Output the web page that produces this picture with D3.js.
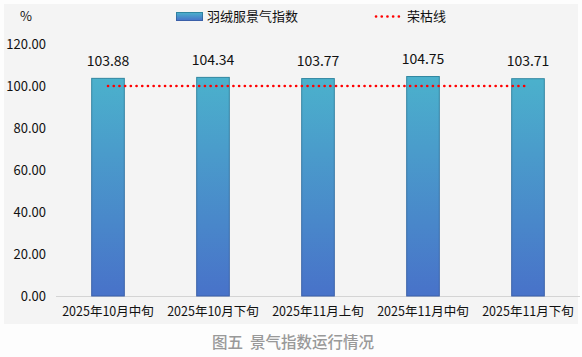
<!DOCTYPE html>
<html>
<head>
<meta charset="utf-8">
<script src="https://cdn.jsdelivr.net/npm/d3@7"></script>
<style>
  body { margin: 0; background: #fdfdfd; }
  svg { display: block; font-family: "Noto Sans CJK SC", "Noto Sans", sans-serif; }
</style>
</head>
<body>
<svg id="chart"></svg>
<script>
// data
var categories = ["2025年10月中旬", "2025年10月下旬", "2025年11月上旬", "2025年11月中旬", "2025年11月下旬"];
var indexValues = [103.88, 104.34, 103.77, 104.75, 103.71];
var lineValues = [100, 100, 100, 100, 100];
var yTicks = [0, 20, 40, 60, 80, 100, 120];
var seriesNames = ["羽绒服景气指数", "荣枯线"];

var width = 582, height = 357;
var svg = d3.select("#chart").attr("width", width).attr("height", height);

var defs = svg.append("defs");
var grad = defs.append("linearGradient").attr("id", "barFill")
  .attr("x1", 0).attr("y1", 0).attr("x2", 0).attr("y2", 1);
grad.append("stop").attr("offset", "0%").attr("stop-color", "#4bb1cc");
grad.append("stop").attr("offset", "100%").attr("stop-color", "#4872c9");
var gradS = defs.append("linearGradient").attr("id", "barStroke")
  .attr("x1", 0).attr("y1", 0).attr("x2", 0).attr("y2", 1);
gradS.append("stop").attr("offset", "0%").attr("stop-color", "#2f86a0");
gradS.append("stop").attr("offset", "100%").attr("stop-color", "#3a5fa8");

// background panel
svg.append("rect").attr("x", 4).attr("y", 4).attr("width", 574).attr("height", 320)
  .attr("fill", "#f4f4f4");

var x = d3.scaleBand().domain(categories).range([55.5, 580.5]).paddingInner(0.68).paddingOuter(0.34);
var y = d3.scaleLinear().domain([0, 120]).range([296, 44]);

// y axis labels
svg.append("g").selectAll("text").data(yTicks).enter().append("text")
  .attr("x", 46).attr("y", function(d){ return y(d); })
  .attr("dy", "0.35em").attr("text-anchor", "end")
  .attr("font-size", 13).attr("fill", "#111")
  .text(function(d){ return d.toFixed(2); });

svg.append("text").attr("x", 20).attr("y", 16).attr("dy", "0.35em")
  .attr("font-size", 13).attr("fill", "#111").text("%");

// x axis line
svg.append("line").attr("x1", 56).attr("x2", 580).attr("y1", 296.5).attr("y2", 296.5)
  .attr("stroke", "#d4d4d4").attr("stroke-width", 1);

// bars
svg.append("g").selectAll("rect").data(indexValues).enter().append("rect")
  .attr("x", function(d, i){ return x(categories[i]) + 0.5; })
  .attr("y", function(d){ return y(d) + 0.5; })
  .attr("width", x.bandwidth() - 1)
  .attr("height", function(d){ return y(0) - y(d) - 0.5; })
  .attr("fill", "url(#barFill)")
  .attr("stroke", "url(#barStroke)")
  .attr("stroke-width", 1);

// value labels
svg.append("g").selectAll("text").data(indexValues).enter().append("text")
  .attr("x", function(d, i){ return x(categories[i]) + x.bandwidth() / 2; })
  .attr("y", function(d){ return y(d) - 12; })
  .attr("text-anchor", "middle").attr("font-size", 14).attr("fill", "#111")
  .text(function(d){ return d.toFixed(2); });

// dotted line
var line = d3.line()
  .x(function(d, i){ return x(categories[i]) + x.bandwidth() / 2; })
  .y(function(d){ return y(d); });
svg.append("path").datum(lineValues)
  .attr("d", line).attr("fill", "none")
  .attr("stroke", "#ff0000").attr("stroke-width", 2.6)
  .attr("stroke-linecap", "round").attr("stroke-dasharray", "0.1 5.6");

// x labels
svg.append("g").selectAll("text").data(categories).enter().append("text")
  .attr("x", function(d){ return x(d) + x.bandwidth() / 2; })
  .attr("y", 312).attr("dy", "0.35em")
  .attr("text-anchor", "middle").attr("font-size", 12.5).attr("fill", "#111")
  .text(function(d){ return d; });

// legend
svg.append("rect").attr("x", 176.5).attr("y", 12.5).attr("width", 26).attr("height", 8)
  .attr("fill", "url(#barFill)").attr("stroke", "url(#barStroke)");
svg.append("text").attr("x", 207).attr("y", 16).attr("dy", "0.35em")
  .attr("font-size", 13).attr("fill", "#111").text(seriesNames[0]);
svg.append("line").attr("x1", 376).attr("x2", 401).attr("y1", 16.5).attr("y2", 16.5)
  .attr("stroke", "#ff0000").attr("stroke-width", 2.6)
  .attr("stroke-linecap", "round").attr("stroke-dasharray", "0.1 5.6");
svg.append("text").attr("x", 407).attr("y", 16).attr("dy", "0.35em")
  .attr("font-size", 13).attr("fill", "#111").text(seriesNames[1]);

// caption
svg.append("text").attr("x", 293).attr("y", 343).attr("dy", "0.35em")
  .attr("text-anchor", "middle").attr("font-size", 15.5).attr("font-weight", 500)
  .attr("fill", "#999999").attr("xml:space", "preserve")
  .text("图五  景气指数运行情况");
</script>
</body>
</html>
